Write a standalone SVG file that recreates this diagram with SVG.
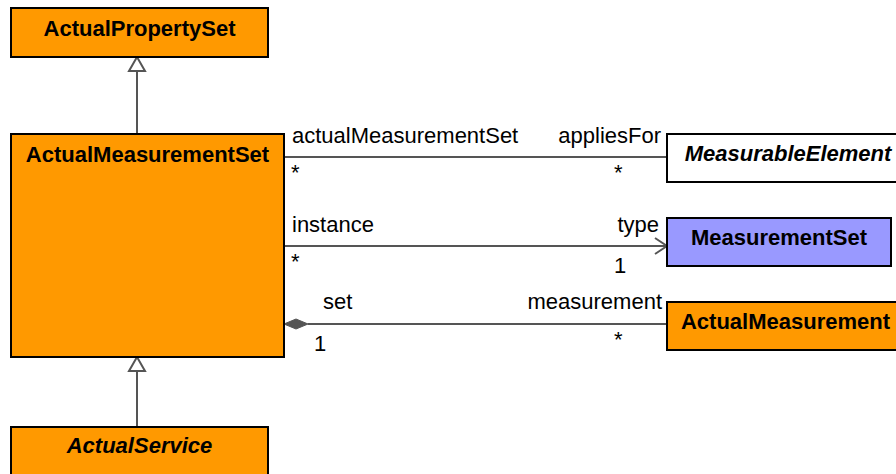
<svg xmlns="http://www.w3.org/2000/svg" width="896" height="474" viewBox="0 0 896 474">
<defs>
<style>
.box{stroke:#000;stroke-width:2}
.or{fill:#ff9900}
.t{font-family:"Liberation Sans",Arial,sans-serif;font-size:22px;font-weight:bold;fill:#000;text-anchor:middle}
.it{font-style:italic}
.l{font-family:"Liberation Sans",Arial,sans-serif;font-size:22px;fill:#000}
.c{stroke:#555;stroke-width:2;fill:none}
</style>
</defs>
<rect width="896" height="474" fill="#fff"/>
<g id="connectors">
<line class="c" x1="137" y1="134" x2="137" y2="71"/>
<polygon points="137,57 129,71 145,71" fill="#fff" stroke="#555" stroke-width="2"/>
<line class="c" x1="137" y1="427" x2="137" y2="371"/>
<polygon points="137,357 129,371 145,371" fill="#fff" stroke="#555" stroke-width="2"/>
<line class="c" x1="284" y1="157" x2="667" y2="157"/>
<line class="c" x1="284" y1="246" x2="667" y2="246"/>
<polyline class="c" points="655,238 667,246 655,254"/>
<line class="c" x1="308" y1="324" x2="667" y2="324"/>
<polygon points="284,324 296,319 308,324 296,329" fill="#555" stroke="#555" stroke-width="1"/>
<text class="l" x="292" y="143">actualMeasurementSet</text>
<text class="l" x="661" y="143" text-anchor="end">appliesFor</text>
<text class="l" x="291" y="180">*</text>
<text class="l" x="614" y="180">*</text>
<text class="l" x="292" y="232">instance</text>
<text class="l" x="659" y="232" text-anchor="end">type</text>
<text class="l" x="291" y="269">*</text>
<text class="l" x="614" y="273">1</text>
<text class="l" x="323" y="309">set</text>
<text class="l" x="662" y="309" text-anchor="end">measurement</text>
<text class="l" x="314" y="351">1</text>
<text class="l" x="614" y="347">*</text>
</g>
<g id="ActualPropertySet">
<rect class="box or" x="11" y="8" width="257" height="49"/>
<text class="t" x="139.5" y="36">ActualPropertySet</text>
</g>
<g id="ActualMeasurementSet">
<rect class="box or" x="11" y="134" width="273" height="223"/>
<text class="t" x="147.5" y="162">ActualMeasurementSet</text>
</g>
<g id="ActualService">
<rect class="box or" x="11" y="427" width="257" height="60"/>
<text class="t it" x="139.5" y="453">ActualService</text>
</g>
<g id="MeasurableElement">
<rect class="box" fill="#fff" x="667" y="134" width="245" height="48"/>
<text class="t it" x="788" y="161">MeasurableElement</text>
</g>
<g id="MeasurementSet">
<rect class="box" fill="#9999ff" x="667" y="218" width="224" height="48"/>
<text class="t" x="779" y="245">MeasurementSet</text>
</g>
<g id="ActualMeasurement">
<rect class="box or" x="667" y="302" width="245" height="48"/>
<text class="t" x="785.5" y="329">ActualMeasurement</text>
</g>
</svg>
